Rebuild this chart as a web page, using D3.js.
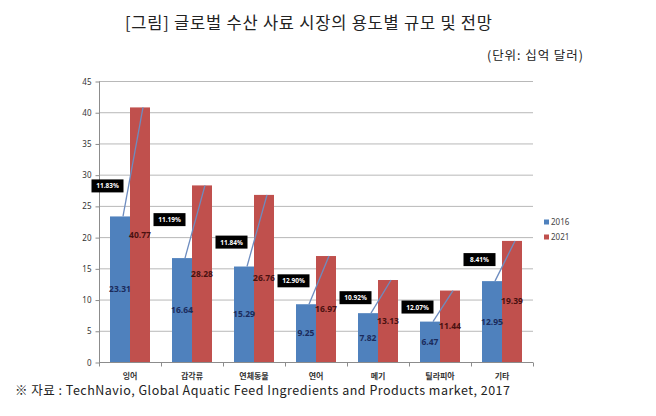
<!DOCTYPE html>
<html><head><meta charset="utf-8">
<script src="https://cdn.jsdelivr.net/npm/d3@7"></script>
<style>
body{margin:0;background:#fff;}
svg{display:block;font-family:"Noto Sans CJK KR","Noto Sans",sans-serif;}
</style></head>
<body><svg id="c" width="656" height="416"></svg>
<script>
const categories = ['잉어','갑각류','연체동물','연어','메기','틸라피아','기타'];
const v2016 = [23.31,16.64,15.29,9.25,7.82,6.47,12.95];
const v2021 = [40.77,28.28,26.76,16.97,13.13,11.44,19.39];
const cagr = ['11.83%','11.19%','11.84%','12.90%','10.92%','12.07%','8.41%'];
const cagrAt = [28.2,22.8,19.2,13.0,10.3,8.8,16.4];
const seriesNames = ['2016','2021'];
const yTicks = [0,5,10,15,20,25,30,35,40,45];

const svg = d3.select('#c');
const colors = ['#4f81bd','#c0504d'];
const labelColors = ['#1b2b5c','#4a1010'];

const x = d3.scaleBand().domain(categories).range([99,533]);
const y = d3.scaleLinear().domain([0,45]).range([362,81]);
const bw = 20;

// title
svg.append('text').attr('x',125).attr('y',29).attr('font-size',16.5).attr('fill','#222')
  .attr('textLength',367).attr('lengthAdjust','spacing')
  .text('[그림] 글로벌 수산 사료 시장의 용도별 규모 및 전망');
svg.append('text').attr('x',487).attr('y',60).attr('font-size',12.5).attr('fill','#222')
  .attr('textLength',96).attr('lengthAdjust','spacing')
  .text('(단위: 십억 달러)');
svg.append('text').attr('x',15).attr('y',395).attr('font-size',12.5).attr('fill','#222')
  .attr('textLength',495).attr('lengthAdjust','spacing')
  .text('※ 자료 : TechNavio, Global Aquatic Feed Ingredients and Products market, 2017');

// gridlines
svg.append('g').selectAll('line').data(yTicks.filter(d=>d>0)).join('line')
  .attr('x1',99).attr('x2',533).attr('y1',d=>y(d)+0.5).attr('y2',d=>y(d)+0.5)
  .attr('stroke','#b8b8b8').attr('stroke-width',1);

// y axis
const ya = svg.append('g').attr('transform','translate(99.5,0.5)')
  .call(d3.axisLeft(y).tickValues(yTicks).tickSize(4).tickPadding(4));
ya.select('.domain').attr('stroke','#8c8c8c').attr('d','M0,'+y(45)+'V'+y(0));
ya.selectAll('.tick line').attr('stroke','#8c8c8c');
ya.selectAll('text').attr('font-size',8).attr('fill','#333').attr('font-family','"Noto Sans","DejaVu Sans",sans-serif');

// x axis
const xa = svg.append('g').attr('transform','translate(0,362.5)');
xa.append('line').attr('x1',99).attr('x2',533).attr('stroke','#8c8c8c');
const bounds = categories.map(c=>x(c)).concat([533]);
xa.selectAll('line.t').data(bounds).join('line').attr('class','t')
  .attr('x1',d=>Math.round(d)+0.5).attr('x2',d=>Math.round(d)+0.5).attr('y1',0).attr('y2',4).attr('stroke','#8c8c8c');
xa.selectAll('text').data(categories).join('text')
  .attr('x',d=>x(d)+x.bandwidth()/2).attr('y',16).attr('text-anchor','middle')
  .attr('font-size',8).attr('font-weight','bold').attr('fill','#333').text(d=>d);

// bars
const series = [v2016, v2021];
series.forEach((vals, si) => {
  svg.append('g').selectAll('rect').data(categories).join('rect')
    .attr('x',(c,i)=>x(c)+x.bandwidth()/2 - bw + si*bw)
    .attr('y',(c,i)=>y(vals[i]))
    .attr('width',bw).attr('height',(c,i)=>y(0)-y(vals[i]))
    .attr('fill',colors[si]);
});

// connector lines
svg.append('g').selectAll('line').data(categories).join('line')
  .attr('x1',(c)=>x(c)+x.bandwidth()/2 - bw + 13)
  .attr('y1',(c,i)=>y(v2016[i]))
  .attr('x2',(c)=>x(c)+x.bandwidth()/2 + 13)
  .attr('y2',(c,i)=>y(v2021[i]))
  .attr('stroke','#6d8cc0').attr('stroke-width',1.3);

// value labels
series.forEach((vals, si) => {
  svg.append('g').selectAll('text').data(categories).join('text')
    .attr('x',(c)=>x(c)+x.bandwidth()/2 - bw/2 + si*bw)
    .attr('y',(c,i)=>(y(vals[i])+y(0))/2 + 3)
    .attr('text-anchor','middle').attr('font-size',8.5).attr('font-weight','bold')
    .attr('font-family','"Noto Sans","DejaVu Sans",sans-serif')
    .attr('fill',labelColors[si]).text((c,i)=>vals[i].toFixed(2));
});

// CAGR boxes
const bg = svg.append('g').selectAll('g').data(categories).join('g')
  .attr('transform',(c,i)=>`translate(${x(c)+x.bandwidth()/2 - bw - 2.5},${y(cagrAt[i])})`);
bg.append('rect').attr('x',-16).attr('y',-6.5).attr('width',32).attr('height',13).attr('fill','#000');
bg.append('text').attr('y',2.5).attr('text-anchor','middle').attr('font-size',6.5).attr('font-weight','bold')
  .attr('font-family','"Noto Sans","DejaVu Sans",sans-serif')
  .attr('fill','#fff').text((c,i)=>cagr[i]);

// legend
const lg = svg.append('g').selectAll('g').data(seriesNames).join('g')
  .attr('transform',(d,i)=>`translate(544,${222+i*15})`);
lg.append('rect').attr('x',0).attr('y',-2.5).attr('width',5).attr('height',5).attr('fill',(d,i)=>colors[i]);
lg.append('text').attr('x',7).attr('y',3).attr('font-size',8).attr('fill','#444')
  .attr('font-family','"Noto Sans","DejaVu Sans",sans-serif').text(d=>d);
</script></body></html>
